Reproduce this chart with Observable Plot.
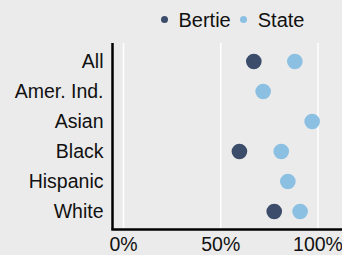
<!DOCTYPE html>
<html><head><meta charset="utf-8">
<script src="https://cdn.jsdelivr.net/npm/d3@7"></script>
<script src="https://cdn.jsdelivr.net/npm/@observablehq/plot@0.6"></script>
<style>
html,body{margin:0;padding:0;background:#ebebeb;}
body{font-family:"Liberation Sans",Arial,Helvetica,sans-serif;}
#wrap{position:relative;width:342px;height:255px;overflow:hidden;}
#legend{position:absolute;top:6px;left:160.5px;font-size:20px;line-height:28px;color:#111;white-space:nowrap;z-index:2;}
#legend .sw{display:inline-block;width:7px;height:7px;border-radius:50%;vertical-align:middle;position:relative;top:-2px;}
#legend .lab{display:inline-block;}
svg{display:block;}
</style>
</head><body>
<div id="wrap"><div id="legend"></div><div id="chart"></div></div>
<script>
const categories = ["All", "Amer. Ind.", "Asian", "Black", "Hispanic", "White"];
const stateValues = [0.881, 0.718, 0.970, 0.811, 0.845, 0.908];
const bertieCategories = ["All", "Black", "White"];
const bertieValues = [0.670, 0.596, 0.775];
const seriesNames = ["Bertie", "State"];
const seriesColors = ["#3b4d6b", "#8cc0e3"];
const xTicks = [0, 0.5, 1];
const xTickLabels = ["0%", "50%", "100%"];

const data = [
  ...bertieCategories.map((c, i) => ({group: c, value: bertieValues[i], series: "Bertie"})),
  ...categories.map((c, i) => ({group: c, value: stateValues[i], series: "State"}))
];

const xMin = -0.0566, xMax = 1.126;

const chart = Plot.plot({
  width: 342,
  height: 255,
  marginLeft: 112,
  marginRight: 0,
  marginTop: 43,
  marginBottom: 26,
  style: {background: "transparent", fontFamily: "'Liberation Sans', Arial, sans-serif", fontSize: "19.5px", color: "#111"},
  x: {domain: [xMin, xMax], ticks: xTicks, tickFormat: (d) => xTickLabels[xTicks.indexOf(d)], tickSize: 0, tickPadding: 8, label: null},
  y: {type: "point", domain: categories, padding: 0.6, tickSize: 0, tickPadding: 9, label: null},
  color: {domain: seriesNames, range: seriesColors},
  marks: [
    Plot.ruleX(xTicks, {stroke: "#ffffff", strokeWidth: 1.5}),
    Plot.ruleX([xMin], {stroke: "#000", strokeWidth: 2.5}),
    Plot.frame({anchor: "bottom", stroke: "#000", strokeWidth: 2.5}),
    Plot.dot(data, {x: "value", y: "group", fill: "series", r: 7.8, stroke: null})
  ]
});
document.getElementById("chart").appendChild(chart);

const legend = document.getElementById("legend");
seriesNames.forEach((name, i) => {
  const sw = document.createElement("span");
  sw.className = "sw";
  sw.style.background = seriesColors[i];
  sw.style.marginRight = "11px";
  legend.appendChild(sw);
  const lab = document.createElement("span");
  lab.className = "lab";
  lab.textContent = name;
  lab.style.marginRight = i === 0 ? "9px" : "0";
  legend.appendChild(lab);
});
</script>
</body></html>
